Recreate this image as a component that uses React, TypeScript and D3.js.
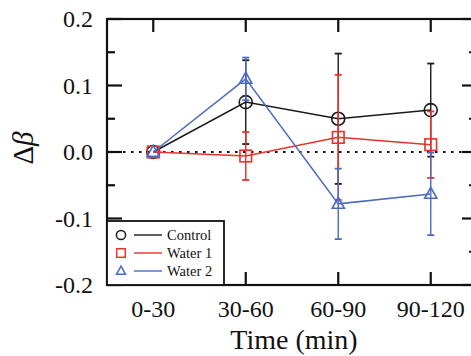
import React from "react";
import * as d3 from "d3";

const categories = ["0-30", "30-60", "60-90", "90-120"];
const controlMean = [0, 0.075, 0.05, 0.063];
const controlErr = [0, 0.063, 0.098, 0.07];
const water1Mean = [0, -0.006, 0.022, 0.011];
const water1Err = [0, 0.036, 0.094, 0.05];
const water2Mean = [0, 0.11, -0.078, -0.063];
const water2Err = [0, 0.032, 0.053, 0.062];
const yTicks = [-0.2, -0.1, 0.0, 0.1, 0.2];
const yMinorTicks = [-0.15, -0.05, 0.05, 0.15];

const W = 471;
const H = 356;
const FONT = "Liberation Serif, DejaVu Serif, Noto Serif, Times New Roman, serif";

type Series = {
  name: string;
  mean: number[];
  err: number[];
  color: string;
  shape: "circle" | "square" | "triangle";
};

const series: Series[] = [
  { name: "Control", mean: controlMean, err: controlErr, color: "#1a1a1a", shape: "circle" },
  { name: "Water 1", mean: water1Mean, err: water1Err, color: "#e8322c", shape: "square" },
  { name: "Water 2", mean: water2Mean, err: water2Err, color: "#4a6cc0", shape: "triangle" },
];

function Marker({ shape, cx, cy, size, color, sw }: { shape: string; cx: number; cy: number; size: number; color: string; sw: number }) {
  if (shape === "circle") {
    return <circle cx={cx} cy={cy} r={size} fill="none" stroke={color} strokeWidth={sw} />;
  }
  if (shape === "square") {
    return <rect x={cx - size} y={cy - size} width={size * 2} height={size * 2} fill="none" stroke={color} strokeWidth={sw} />;
  }
  const h = size * 1.9;
  const pts = [
    [cx, cy - h * 0.6],
    [cx - size * 1.05, cy + h * 0.4],
    [cx + size * 1.05, cy + h * 0.4],
  ];
  return <polygon points={pts.map((p) => p.join(",")).join(" ")} fill="none" stroke={color} strokeWidth={sw} />;
}

export default function App() {
  const left = 107;
  const right = 477;
  const top = 19;
  const bottom = 285;
  const x = d3.scaleLinear().domain([-0.5, categories.length - 0.5]).range([left, right]);
  const y = d3.scaleLinear().domain([-0.2, 0.2]).range([bottom, top]);
  const line = d3
    .line<number>()
    .x((_, i) => x(i))
    .y((d) => y(d));

  const majorLen = 15;
  const minorLen = 8;
  const xTickLen = 13;
  const capW = 3.5;

  // legend geometry
  const lgX0 = left;
  const lgX1 = 224;
  const lgY0 = 221;
  const lgRows = [235, 253, 271];

  const textStyle = { fontFamily: FONT };

  return (
    <svg width={W} height={H} style={{ position: "absolute", left: 0, top: 0, background: "#fff" }}>
      <rect x={0} y={0} width={W} height={H} fill="#fff" />

      {/* zero reference line */}
      <line x1={left} x2={right} y1={y(0)} y2={y(0)} stroke="#111" strokeWidth={2.2} strokeDasharray="2.5 5.5" />

      {/* series: error bars, connecting lines, markers */}
      {series.map((s) => (
        <g key={s.name}>
          {s.mean.map((m, i) =>
            s.err[i] > 0 ? (
              <g key={i} stroke={s.color} strokeWidth={1.4}>
                <line x1={x(i)} x2={x(i)} y1={y(m - s.err[i])} y2={y(m + s.err[i])} />
                <line x1={x(i) - capW} x2={x(i) + capW} y1={y(m + s.err[i])} y2={y(m + s.err[i])} strokeWidth={1.8} />
                <line x1={x(i) - capW} x2={x(i) + capW} y1={y(m - s.err[i])} y2={y(m - s.err[i])} strokeWidth={1.8} />
              </g>
            ) : null
          )}
          <path d={line(s.mean) || ""} fill="none" stroke={s.color} strokeWidth={1.5} />
          {s.mean.map((m, i) => (
            <Marker key={i} shape={s.shape} cx={x(i)} cy={y(m)} size={s.shape === "circle" ? 6.5 : 5.8} color={s.color} sw={1.6} />
          ))}
        </g>
      ))}

      {/* frame */}
      <rect x={left} y={top} width={right - left} height={bottom - top} fill="none" stroke="#111" strokeWidth={2.2} />

      {/* y ticks, both sides */}
      {yTicks.map((t) => (
        <g key={t} stroke="#111" strokeWidth={2.2}>
          <line x1={left} x2={left + majorLen} y1={y(t)} y2={y(t)} />
          <line x1={right} x2={right - majorLen} y1={y(t)} y2={y(t)} />
        </g>
      ))}
      {yMinorTicks.map((t) => (
        <g key={t} stroke="#111" strokeWidth={2.2}>
          <line x1={left} x2={left + minorLen} y1={y(t)} y2={y(t)} />
          <line x1={right} x2={right - minorLen} y1={y(t)} y2={y(t)} />
        </g>
      ))}
      {/* x ticks, top and bottom */}
      {categories.map((c, i) => (
        <g key={c} stroke="#111" strokeWidth={2.2}>
          <line x1={x(i)} x2={x(i)} y1={top} y2={top + xTickLen} />
          <line x1={x(i)} x2={x(i)} y1={bottom} y2={bottom - xTickLen} />
        </g>
      ))}

      {/* y tick labels */}
      {yTicks.map((t) => (
        <text key={t} x={93} y={y(t) + 8} textAnchor="end" style={textStyle} fontSize={24} fill="#111">
          {d3.format(".1f")(t).replace("−", "-")}
        </text>
      ))}
      {/* x tick labels */}
      {categories.map((c, i) => (
        <text key={c} x={x(i)} y={317} textAnchor="middle" style={textStyle} fontSize={24} fill="#111">
          {c}
        </text>
      ))}

      {/* axis titles */}
      <text x={294} y={349} textAnchor="middle" style={textStyle} fontSize={28} fill="#111">
        Time (min)
      </text>
      <text transform={`translate(33,148) rotate(-90)`} textAnchor="middle" style={textStyle} fontSize={29} fill="#111">
        Δ<tspan fontStyle="italic">β</tspan>
      </text>

      {/* legend */}
      <rect x={lgX0} y={lgY0} width={lgX1 - lgX0} height={bottom - lgY0} fill="#fff" stroke="#111" strokeWidth={1.8} />
      {series.map((s, k) => (
        <g key={s.name}>
          <Marker shape={s.shape} cx={121} cy={lgRows[k]} size={s.shape === "circle" ? 4.6 : 4.3} color={s.color} sw={1.5} />
          <line x1={134} x2={162} y1={lgRows[k]} y2={lgRows[k]} stroke={s.color} strokeWidth={1.4} />
          <text x={167} y={lgRows[k] + 5} style={textStyle} fontSize={14.5} fill="#111">
            {s.name}
          </text>
        </g>
      ))}
    </svg>
  );
}
